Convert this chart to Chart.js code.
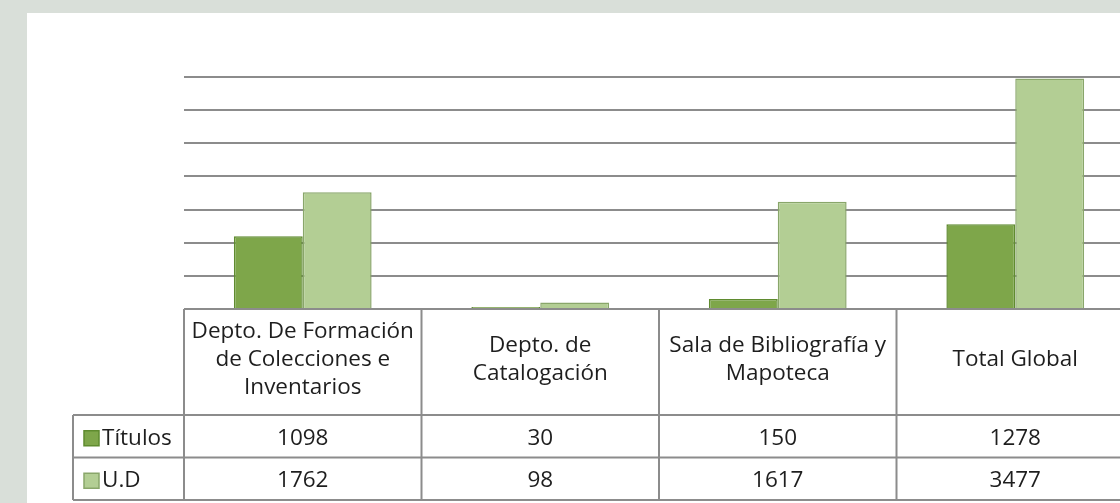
<!DOCTYPE html>
<html>
<head>
<meta charset="utf-8">
<script src="https://cdn.jsdelivr.net/npm/chart.js@4.4.1/dist/chart.umd.min.js"></script>
<style>
  html, body { margin: 0; padding: 0; overflow: hidden; background: #d9dfd9; }
  #wrap { width: 1150px; height: 503px; }
</style>
</head>
<body>
<div id="wrap"><canvas id="chart" width="1150" height="503"></canvas></div>
<script>
// categories (pre-wrapped like the data table in the original)
const categories = [
  ['Depto. De Formación', 'de Colecciones e', 'Inventarios'],
  ['Depto. de', 'Catalogación'],
  ['Sala de Bibliografía y', 'Mapoteca'],
  ['Total Global']
];
const seriesNames = ['Títulos', 'U.D'];
const titulos = [1098, 30, 150, 1278];
const unidades = [1762, 98, 1617, 3477];

const FONT = '22.5px "Open Sans", "Noto Sans", sans-serif';
const TEXT = '#1e1e1e';
const LINE = '#8c8c8c';

// page background + white panel
const backgroundPlugin = {
  id: 'panel',
  beforeDraw(chart) {
    const ctx = chart.ctx;
    ctx.save();
    ctx.fillStyle = '#d9dfd9';
    ctx.fillRect(0, 0, chart.width, chart.height);
    ctx.fillStyle = '#ffffff';
    ctx.fillRect(27, 13, chart.width - 27, chart.height - 13);
    ctx.restore();
  }
};

// data table under the plot
const dataTablePlugin = {
  id: 'dataTable',
  afterDraw(chart) {
    const ctx = chart.ctx;
    const x = chart.scales.x;
    const area = chart.chartArea;
    const half = (x.getPixelForValue(1) - x.getPixelForValue(0)) / 2;
    const top = area.bottom;
    const headBottom = top + 106;
    const rowH = 42.5;
    const tableBottom = headBottom + rowH * 2;
    const legendLeft = 73;

    ctx.save();
    ctx.strokeStyle = LINE;
    ctx.lineWidth = 2;
    ctx.beginPath();
    // horizontal lines
    ctx.moveTo(area.left, top); ctx.lineTo(area.right, top);
    for (let r = 0; r <= 2; r++) {
      const y = headBottom + rowH * r;
      ctx.moveTo(legendLeft, y); ctx.lineTo(area.right, y);
    }
    // vertical lines
    ctx.moveTo(legendLeft, headBottom); ctx.lineTo(legendLeft, tableBottom);
    for (let i = 0; i <= categories.length; i++) {
      const px = x.getPixelForValue(0) - half + i * half * 2;
      ctx.moveTo(px, top); ctx.lineTo(px, tableBottom);
    }
    ctx.stroke();

    ctx.fillStyle = TEXT;
    ctx.font = FONT;
    ctx.textAlign = 'center';
    ctx.textBaseline = 'middle';
    const lineH = 28;
    categories.forEach((lines, i) => {
      const cx = x.getPixelForValue(i);
      const cy = (top + headBottom) / 2 - 2;
      lines.forEach((t, k) => {
        ctx.fillText(t, cx, cy + (k - (lines.length - 1) / 2) * lineH);
      });
    });

    chart.data.datasets.forEach((ds, r) => {
      const cy = headBottom + rowH * r + rowH / 2 + 2;
      ds.data.forEach((v, i) => {
        ctx.fillStyle = TEXT;
        ctx.textAlign = 'center';
        ctx.fillText(String(v), x.getPixelForValue(i), cy);
      });
      // legend key
      ctx.fillStyle = ds.backgroundColor;
      ctx.fillRect(84, cy - 7.5, 15, 15);
      ctx.strokeStyle = ds.borderColor;
      ctx.lineWidth = 1.5;
      ctx.strokeRect(84, cy - 7.5, 15, 15);
      ctx.fillStyle = TEXT;
      ctx.textAlign = 'left';
      ctx.fillText(ds.label, 102, cy);
    });
    ctx.restore();
  }
};

new Chart(document.getElementById('chart'), {
  type: 'bar',
  data: {
    labels: categories,
    datasets: [
      {
        label: seriesNames[0],
        data: titulos,
        backgroundColor: '#7ea64a',
        borderColor: '#5f8b2f',
        borderWidth: 1.5
      },
      {
        label: seriesNames[1],
        data: unidades,
        backgroundColor: '#b3ce94',
        borderColor: '#89a66a',
        borderWidth: 1.5
      }
    ]
  },
  options: {
    responsive: false,
    animation: false,
    devicePixelRatio: 1,
    layout: { padding: { left: 184, top: 77, right: 16, bottom: 194 } },
    datasets: { bar: { barPercentage: 1, categoryPercentage: 0.58 } },
    plugins: {
      legend: { display: false },
      tooltip: { enabled: false }
    },
    scales: {
      x: { display: false },
      y: {
        min: 0,
        max: 3500,
        ticks: { display: false, stepSize: 500 },
        grid: { color: LINE, lineWidth: 2, drawTicks: false },
        border: { display: false }
      }
    }
  },
  plugins: [backgroundPlugin, dataTablePlugin]
});
</script>
</body>
</html>
